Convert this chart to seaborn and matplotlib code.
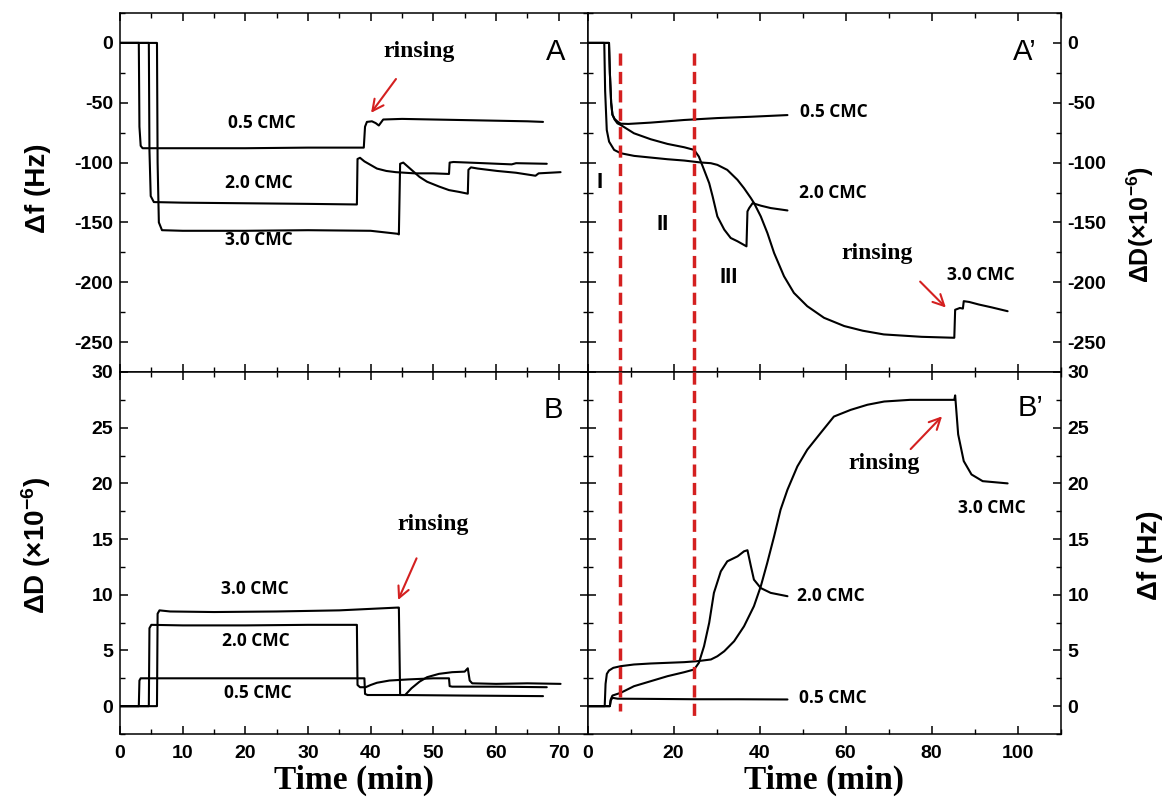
import matplotlib
matplotlib.use("Agg")
import matplotlib.pyplot as plt
import seaborn as sns
from matplotlib.ticker import MultipleLocator

# ---------------- data ----------------
# Panel A : delta f vs time (left, top)
A_T05 = [0, 3.0, 3.1, 3.3, 3.6, 10, 20, 30, 38.9, 39.1, 39.4, 40.2, 40.8, 41.3, 42, 45, 50, 55, 60, 65, 67.5]
A_V05 = [0, 0, -70, -86, -88, -88, -88, -87.5, -87.5, -70, -66, -65.5, -67, -69, -64, -63.5, -64, -64.5, -65, -65.5, -66]
A_T20 = [0, 4.6, 4.7, 4.9, 5.4, 10, 20, 30, 37.8, 37.9, 38.3, 39, 40, 41, 42.5, 44, 47, 50, 52.5, 52.6, 53.2, 58, 62.5, 63.2, 68.1]
A_V20 = [0, 0, -90, -128, -133, -133.5, -134, -134.5, -135, -97, -96, -99, -102, -105, -107, -108, -109, -109, -109.5, -100, -99.5, -100.5, -101.5, -100.5, -101]
A_T30 = [0, 5.9, 6.0, 6.2, 6.7, 10, 20, 30, 40, 44.3, 44.5, 44.7, 45.2, 46.5, 47.8, 49, 50.9, 52.5, 54.1, 55.5, 55.6, 56, 57.1, 60.2, 63.2, 66.3, 66.8, 70.3]
A_V30 = [0, 0, -100, -150, -156.5, -157, -157, -156.5, -157, -159.5, -160, -101, -100, -106, -112, -116, -120, -123, -124.5, -126, -106, -104, -105, -107, -108.5, -111, -109, -108]

# Panel B : delta D vs time (left, bottom)
B_T05 = [0, 3.0, 3.1, 3.3, 10, 20, 30, 39.0, 39.1, 39.5, 45, 55, 67.5]
B_V05 = [0, 0, 2.3, 2.5, 2.5, 2.5, 2.5, 2.5, 1.1, 1.0, 1.0, 0.95, 0.9]
B_T20 = [0, 4.6, 4.7, 5.0, 10, 20, 30, 37.8, 37.9, 38.3, 39.2, 40, 41, 43, 46, 50, 52.5, 52.6, 53, 60, 68.1]
B_V20 = [0, 0, 7.0, 7.3, 7.25, 7.25, 7.3, 7.3, 1.9, 1.7, 1.7, 1.9, 2.1, 2.3, 2.4, 2.5, 2.5, 1.8, 1.75, 1.75, 1.7]
B_T30 = [0, 5.9, 6.0, 6.3, 8, 15, 25, 35, 44.3, 44.5, 44.7, 45.5, 46.5, 47.8, 49, 50.9, 53, 55.0, 55.5, 55.8, 56.2, 60, 65, 70.3]
B_V30 = [0, 0, 8.3, 8.6, 8.5, 8.45, 8.5, 8.6, 8.85, 8.85, 1.0, 1.0, 1.6, 2.2, 2.6, 2.9, 3.05, 3.1, 3.4, 2.3, 2.05, 2.0, 2.05, 2.0]

# Panel A' (right, top)
AP_T05 = [0, 5.0, 5.2, 5.5, 5.8, 6.3, 7.0, 7.74, 9.5, 14.7, 22.5, 30.2, 38.0, 46.5]
AP_V05 = [0, 0, -25, -50, -60, -63.5, -65.8, -67.5, -67.7, -66.6, -64.4, -62.8, -61.7, -60.3]
AP_T20 = [0, 5.0, 5.2, 5.5, 5.8, 6.3, 6.96, 7.74, 10.8, 14.7, 18.6, 22.5, 24.8, 25.9, 27.1, 28.3, 29.1, 30.2,
          31.8, 33.3, 34.9, 36.97, 37.2, 37.6, 38.4, 40.3, 42.6, 46.5]
AP_V20 = [0, 0, -25, -50, -60, -64, -67.2, -68.6, -75.5, -80.5, -84.4, -87.2, -89.4, -95, -106, -117.2, -128.3, -145,
          -156, -163, -165.8, -170, -140.8, -138, -133.9, -136, -138, -140]
AP_T30 = [0, 3.9, 4.1, 4.48, 5.02, 6.19, 7.74, 10.84, 14.7, 18.6, 22.5, 26.3, 28.67, 30.2, 32.5, 34.87, 36.4, 38.0,
          38.74, 40.3, 41.84, 43.4, 45.7, 48.0, 51.1, 55.0, 59.7, 64, 68.9, 77.7, 85.3, 85.5, 86.6, 87.3, 87.5, 88.8,
          91.0, 94.0, 97.7]
AP_V30 = [0, 0, -40, -72.8, -82.5, -89.4, -92.2, -94.4, -95.8, -97.2, -98.3, -99.9, -100.5, -101.9, -106.1, -114.4,
          -121.4, -129.7, -133.9, -145, -158.9, -175.6, -195, -208.9, -220, -229.7, -236.6, -240.5, -243.6, -245.6,
          -246.4, -223, -221.5, -222, -215.8, -216.5, -218.6, -221, -224.2]

# Panel B' (right, bottom)
BP_T05 = [0, 5.2, 5.4, 5.8, 7, 15, 25, 35, 46.5]
BP_V05 = [0, 0, 0.5, 0.75, 0.67, 0.65, 0.62, 0.62, 0.6]
BP_T20 = [0, 5.2, 5.4, 5.8, 7.74, 10.8, 14.7, 18.6, 22.5, 24.8, 25.9, 27.1, 28.3, 29.4, 31.0, 32.5, 34.9, 36.4,
          37.2, 38.0, 38.7, 40.3, 42.6, 46.5]
BP_V20 = [0, 0, 0.6, 0.95, 1.2, 1.79, 2.24, 2.69, 3.05, 3.29, 3.89, 5.38, 7.48, 10.17, 12.1, 13.0, 13.45, 13.9,
          14.0, 12.56, 11.36, 10.6, 10.17, 9.87]
BP_T30 = [0, 4.0, 4.2, 4.5, 5.0, 6.0, 7.74, 10.8, 14.7, 18.6, 22.5, 25.6, 28.7, 30.2, 31.8, 34.1, 36.4, 38.7, 40.3,
          41.8, 43.4, 44.9, 46.5, 48.8, 51.1, 54.2, 57.3, 61.2, 65.1, 69.0, 75, 85.3, 85.5, 86.2, 87.5, 89.3, 91.9, 97.7]
BP_V30 = [0, 0, 2.0, 2.9, 3.2, 3.44, 3.59, 3.74, 3.83, 3.89, 3.95, 4.04, 4.19, 4.48, 4.93, 5.83, 7.17, 8.97, 10.76,
          12.86, 15.25, 17.64, 19.43, 21.52, 23.02, 24.52, 26.0, 26.6, 27.06, 27.35, 27.5, 27.5, 27.9, 24.4, 22.0,
          20.8, 20.2, 20.0]

STAGE_LINES = [7.6, 24.8]          # red dashed boundaries (min)
SERIES_NAMES = ["0.5 CMC", "2.0 CMC", "3.0 CMC"]

# ---------------- style ----------------
sns.set_theme(style="ticks")
plt.rcParams.update({
    "font.family": ["Liberation Sans", "DejaVu Sans"],
    "font.weight": "bold",
    "mathtext.fontset": "custom",
    "mathtext.rm": "Liberation Sans:bold",
    "mathtext.it": "Liberation Sans:bold",
    "mathtext.bf": "Liberation Sans:bold",
    "mathtext.default": "rm",
    "axes.unicode_minus": False,
    "axes.linewidth": 1.1,
    "axes.edgecolor": "black",
    "axes.labelcolor": "black",
    "text.color": "black",
    "xtick.color": "black",
    "ytick.color": "black",
})

RED = "#d42020"
fig = plt.figure(figsize=(11.71, 8.02), dpi=100)
fig.patch.set_facecolor("white")

ax_A = fig.add_axes([0.10248, 0.53616, 0.39923, 0.44763])
ax_B = fig.add_axes([0.10248, 0.08479, 0.39923, 0.45137])
ax_AP = fig.add_axes([0.50171, 0.53616, 0.40393, 0.44763])
ax_BP = fig.add_axes([0.50171, 0.08479, 0.40393, 0.45137])


def draw(ax, t, v):
    sns.lineplot(x=t, y=v, ax=ax, color="black", linewidth=1.5,
                 estimator=None, sort=False)


for t, v in [(A_T05, A_V05), (A_T20, A_V20), (A_T30, A_V30)]:
    draw(ax_A, t, v)
for t, v in [(B_T05, B_V05), (B_T20, B_V20), (B_T30, B_V30)]:
    draw(ax_B, t, v)
for t, v in [(AP_T05, AP_V05), (AP_T20, AP_V20), (AP_T30, AP_V30)]:
    draw(ax_AP, t, v)
for t, v in [(BP_T05, BP_V05), (BP_T20, BP_V20), (BP_T30, BP_V30)]:
    draw(ax_BP, t, v)

# axes limits and ticks
for ax in (ax_A, ax_B):
    ax.set_xlim(0, 74.6)
    ax.xaxis.set_major_locator(MultipleLocator(10))
    ax.xaxis.set_minor_locator(MultipleLocator(5))
for ax in (ax_AP, ax_BP):
    ax.set_xlim(0, 110)
    ax.xaxis.set_major_locator(MultipleLocator(20))
    ax.xaxis.set_minor_locator(MultipleLocator(10))
for ax in (ax_A, ax_AP):
    ax.set_ylim(-275, 25)
    ax.yaxis.set_major_locator(MultipleLocator(50))
    ax.yaxis.set_minor_locator(MultipleLocator(25))
for ax in (ax_B, ax_BP):
    ax.set_ylim(-2.5, 30)
    ax.yaxis.set_major_locator(MultipleLocator(5))
    ax.yaxis.set_minor_locator(MultipleLocator(2.5))

for ax in (ax_A, ax_B, ax_AP, ax_BP):
    ax.set_xlabel("")
    ax.set_ylabel("")
    ax.set_facecolor("white")
    for s in ax.spines.values():
        s.set_visible(True)
        s.set_linewidth(1.1)
        s.set_color("black")
    ax.tick_params(which="both", direction="in", top=True, bottom=True,
                   left=True, right=True, labelsize=14, colors="black")
    ax.tick_params(which="major", length=6, width=1.1)
    ax.tick_params(which="minor", length=3.5, width=1.0)
    ax.tick_params(axis="x", pad=8)
    ax.tick_params(axis="y", pad=5)

ax_A.tick_params(labelbottom=False)
ax_AP.tick_params(labelbottom=False, labelleft=False, labelright=True)
ax_BP.tick_params(labelleft=False, labelright=True)

for ax in (ax_A, ax_B, ax_AP, ax_BP):
    for lbl in ax.get_xticklabels() + ax.get_yticklabels():
        lbl.set_fontweight("bold")

# axis titles
for ax in (ax_B, ax_BP):
    ax.set_xlabel("Time (min)", family="Liberation Serif", fontweight="bold",
                  fontsize=24, labelpad=2, color="black")
ax_A.text(-0.176, 0.513, "Δf (Hz)", transform=ax_A.transAxes, rotation=90,
          ha="center", va="center", fontsize=20, fontweight="bold")
ax_B.text(-0.18, 0.52, "ΔD (×10$^{-6}$)", transform=ax_B.transAxes, rotation=90,
          ha="center", va="center", fontsize=20, fontweight="bold")
ax_AP.text(1.168, 0.41, "ΔD(×10$^{-6}$)", transform=ax_AP.transAxes, rotation=90,
           ha="center", va="center", fontsize=18, fontweight="bold")
ax_BP.text(1.19, 0.494, "Δf (Hz)", transform=ax_BP.transAxes, rotation=90,
           ha="center", va="center", fontsize=20, fontweight="bold")

# panel letters
letter_kw = dict(fontsize=21, fontweight="normal", ha="center", va="center",
                 family="Liberation Sans")
ax_A.text(69.5, -7.5, "A", **letter_kw)
ax_B.text(69.1, 26.6, "B", **letter_kw)
ax_AP.text(101.8, -7.5, "A’", **letter_kw)
ax_BP.text(103.0, 26.8, "B’", **letter_kw)

# series labels
lab_kw = dict(fontsize=12.5, fontweight="bold", family="Open Sans",
              ha="left", va="center")
for (x, y), name in zip([(17.3, -66.6), (16.8, -117.2), (16.8, -165)], SERIES_NAMES):
    ax_A.text(x, y, name, **lab_kw)
for (x, y), name in zip([(16.6, 1.2), (16.2, 5.84), (16.1, 10.5)], SERIES_NAMES):
    ax_B.text(x, y, name, **lab_kw)
for (x, y), name in zip([(49.4, -57.5), (49.2, -125), (83.5, -193.9)], SERIES_NAMES):
    ax_AP.text(x, y, name, **lab_kw)
for (x, y), name in zip([(49.2, 0.75), (48.8, 9.87), (86.2, 17.8)], SERIES_NAMES):
    ax_BP.text(x, y, name, **lab_kw)

# stage numerals
stage_kw = dict(fontsize=16, fontweight="bold", ha="center", va="center")
ax_AP.text(2.7, -117, "I", **stage_kw)
ax_AP.text(17.4, -152, "II", **stage_kw)
ax_AP.text(32.9, -196, "III", **stage_kw)

# rinsing annotations
rin_kw = dict(fontsize=17, fontweight="bold", family="Liberation Serif",
              ha="center", va="center")
arrow_kw = dict(arrowstyle="->", color=RED, lw=1.5, mutation_scale=20)
ax_A.text(47.7, -7.5, "rinsing", **rin_kw)
ax_A.annotate("", xy=(39.8, -60.3), xytext=(44.3, -28.3), arrowprops=arrow_kw)
ax_B.text(49.9, 16.3, "rinsing", **rin_kw)
ax_B.annotate("", xy=(44.2, 9.3), xytext=(47.5, 13.5), arrowprops=arrow_kw)
ax_AP.text(67.3, -176, "rinsing", **rin_kw)
ax_AP.annotate("", xy=(83.8, -222.8), xytext=(76.9, -197.8), arrowprops=arrow_kw)
ax_BP.text(68.9, 21.8, "rinsing", **rin_kw)
ax_BP.annotate("", xy=(82.9, 26.2), xytext=(74.7, 22.9), arrowprops=arrow_kw)

# red dashed stage boundaries
dash = (0, (3.5, 1.8))
for x0, ybot in zip(STAGE_LINES, [-0.45, -0.9]):
    ax_AP.plot([x0, x0], [-8.3, -275], color=RED, lw=2.5, linestyle=dash, zorder=5)
    ax_BP.plot([x0, x0], [30, ybot], color=RED, lw=2.5, linestyle=dash, zorder=5)

fig.savefig("out.png", dpi=100, facecolor="white")
